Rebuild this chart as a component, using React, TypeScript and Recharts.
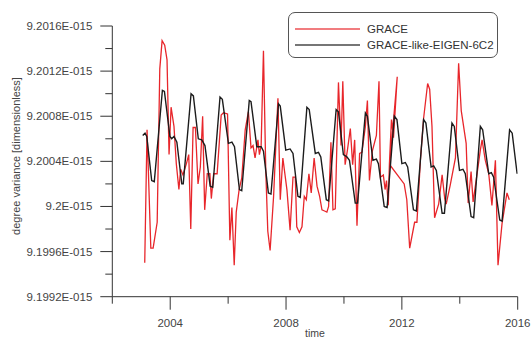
import React from "react";
import { LineChart, Line, XAxis, YAxis, Legend } from "recharts";

// [time (decimal year), degree variance (x 1E-015)]
const graceSeries: [number, number][] = [
  [2003.12, 9.1995], [2003.2, 9.20068], [2003.33, 9.19963], [2003.41, 9.19963],
  [2003.55, 9.19986], [2003.64, 9.20122], [2003.72, 9.20147], [2003.81, 9.20143],
  [2003.89, 9.2013], [2003.96, 9.20046], [2004.03, 9.20088], [2004.13, 9.20071],
  [2004.21, 9.20038], [2004.3, 9.20015], [2004.36, 9.20033], [2004.44, 9.20028],
  [2004.56, 9.20038], [2004.64, 9.20046], [2004.71, 9.1998], [2004.79, 9.2007],
  [2004.87, 9.2007], [2004.96, 9.2002], [2005.04, 9.20035], [2005.12, 9.2008],
  [2005.19, 9.19997], [2005.28, 9.20029], [2005.37, 9.20029], [2005.42, 9.20007],
  [2005.5, 9.20029], [2005.62, 9.20029], [2005.76, 9.20081], [2005.84, 9.20083],
  [2005.98, 9.20082], [2006.06, 9.1997], [2006.13, 9.19999], [2006.21, 9.19948],
  [2006.28, 9.19995], [2006.38, 9.20015], [2006.47, 9.20025], [2006.59, 9.20068],
  [2006.7, 9.20084], [2006.79, 9.20052], [2006.86, 9.20054], [2006.93, 9.20043],
  [2007.03, 9.20059], [2007.08, 9.20046], [2007.14, 9.20054], [2007.22, 9.20138],
  [2007.3, 9.20032], [2007.37, 9.19978], [2007.45, 9.19961], [2007.57, 9.20009],
  [2007.72, 9.20096], [2007.8, 9.20006], [2007.89, 9.20043], [2008.03, 9.20015],
  [2008.14, 9.19979], [2008.24, 9.20026], [2008.32, 9.20026], [2008.37, 9.19982],
  [2008.46, 9.19977], [2008.55, 9.19982], [2008.63, 9.20009], [2008.7, 9.20006],
  [2008.79, 9.20029], [2008.87, 9.20012], [2008.97, 9.20043], [2009.07, 9.20018],
  [2009.16, 9.20009], [2009.24, 9.19997], [2009.33, 9.19996], [2009.41, 9.19995],
  [2009.47, 9.2], [2009.55, 9.20057], [2009.62, 9.19997], [2009.7, 9.19998],
  [2009.81, 9.2011], [2009.9, 9.20054], [2009.96, 9.20111], [2010.04, 9.20037],
  [2010.12, 9.2005], [2010.22, 9.20069], [2010.3, 9.20037], [2010.37, 9.20059],
  [2010.45, 9.19983], [2010.54, 9.20047], [2010.62, 9.20048], [2010.74, 9.20071],
  [2010.81, 9.20094], [2010.88, 9.20023], [2010.98, 9.20049], [2011.12, 9.20063],
  [2011.21, 9.20111], [2011.26, 9.20026], [2011.36, 9.20028], [2011.42, 9.20015],
  [2011.47, 9.20023], [2011.53, 9.20001], [2011.57, 9.20038], [2011.64, 9.20077],
  [2011.71, 9.20061], [2011.84, 9.20115], [2011.58, 9.20037], [2012.08, 9.2002],
  [2012.17, 9.20006], [2012.27, 9.19963], [2012.44, 9.19986], [2012.52, 9.19986],
  [2012.64, 9.20041], [2012.75, 9.20078], [2012.89, 9.20109], [2012.96, 9.20104],
  [2013.04, 9.20071], [2013.13, 9.1999], [2013.27, 9.20002], [2013.39, 9.20028],
  [2013.48, 9.20007], [2013.53, 9.20002], [2013.67, 9.20019], [2013.85, 9.20043],
  [2013.96, 9.20127], [2014.05, 9.20085], [2014.22, 9.20056], [2014.29, 9.20003],
  [2014.39, 9.20031], [2014.46, 9.20004], [2014.63, 9.20035], [2014.71, 9.2005],
  [2014.77, 9.20059], [2014.88, 9.20041], [2015.0, 9.20029], [2015.11, 9.20001],
  [2015.23, 9.20041], [2015.32, 9.19948], [2015.46, 9.19985], [2015.63, 9.20012],
  [2015.71, 9.20006],
];

const eigenSeries: [number, number][] = [
  [2003.05, 9.20063], [2003.13, 9.20065], [2003.19, 9.20062], [2003.36, 9.20023],
  [2003.45, 9.20022], [2003.73, 9.20103], [2003.8, 9.20102], [2003.99, 9.20062],
  [2004.05, 9.2006], [2004.13, 9.20062], [2004.23, 9.20057], [2004.4, 9.2002],
  [2004.45, 9.2002], [2004.72, 9.201], [2004.8, 9.20098], [2004.97, 9.2006],
  [2005.09, 9.20059], [2005.2, 9.20054], [2005.38, 9.20018], [2005.47, 9.20017],
  [2005.72, 9.20097], [2005.8, 9.20095], [2006.01, 9.20056], [2006.13, 9.20057],
  [2006.22, 9.20053], [2006.39, 9.20015], [2006.47, 9.20014], [2006.73, 9.20094],
  [2006.79, 9.20093], [2006.99, 9.20053], [2007.14, 9.20053], [2007.22, 9.20049],
  [2007.39, 9.20012], [2007.48, 9.20011], [2007.74, 9.20091], [2007.8, 9.20089],
  [2007.99, 9.2005], [2008.14, 9.20051], [2008.24, 9.20047], [2008.41, 9.20009],
  [2008.49, 9.20008], [2008.72, 9.20088], [2008.8, 9.20086], [2009.01, 9.20047],
  [2009.12, 9.20048], [2009.2, 9.20044], [2009.39, 9.20006], [2009.47, 9.20005],
  [2009.73, 9.20086], [2009.81, 9.20084], [2009.98, 9.20046], [2010.1, 9.20044],
  [2010.19, 9.20041], [2010.39, 9.20003], [2010.47, 9.20003], [2010.74, 9.20083],
  [2010.81, 9.2008], [2011.0, 9.20041], [2011.12, 9.20042], [2011.19, 9.20038],
  [2011.39, 9.2], [2011.49, 9.19999], [2011.74, 9.2008], [2011.83, 9.20077],
  [2012.0, 9.20038], [2012.12, 9.20039], [2012.2, 9.20035], [2012.4, 9.19997],
  [2012.5, 9.19996], [2012.75, 9.20077], [2012.83, 9.20074], [2013.01, 9.20035],
  [2013.1, 9.20036], [2013.19, 9.20032], [2013.39, 9.19994], [2013.47, 9.19994],
  [2013.73, 9.20074], [2013.81, 9.20071], [2013.99, 9.20032], [2014.11, 9.20033],
  [2014.19, 9.20029], [2014.39, 9.19991], [2014.48, 9.1999], [2014.71, 9.20071],
  [2014.79, 9.20068], [2015.0, 9.20029], [2015.09, 9.2003], [2015.17, 9.20026],
  [2015.38, 9.19988], [2015.46, 9.19987], [2015.72, 9.20068], [2015.81, 9.20065],
  [2015.98, 9.20029],
];

const xTicks = [2002, 2004, 2006, 2008, 2010, 2012, 2014, 2016];
const yTicks = [
  9.1992, 9.1994, 9.1996, 9.1998, 9.2, 9.2002, 9.2004, 9.2006, 9.2008, 9.201,
  9.2012, 9.2014, 9.2016,
];

const seriesNames = ["GRACE", "GRACE-like-EIGEN-6C2"];
const seriesColors = ["#e8262b", "#1c1c1c"];

const toRows = (s: [number, number][]) => s.map(([t, v]) => ({ t, v }));
const fmtY = (v: number) => `${parseFloat(v.toFixed(4))}E-015`;

const FONT = "'Liberation Sans', Arial, sans-serif";
const AXIS = "#333";
const TEXT = "#444";

const XTick = (props: any) => {
  const { x, y, payload } = props;
  const major = payload.value % 4 === 0;
  return (
    <g>
      <line x1={x} x2={x} y1={y} y2={y + (major ? 13 : 7)} stroke={AXIS} />
      {major && (
        <text x={x} y={y + 30} textAnchor="middle" fontSize={11.5} fill={TEXT} fontFamily={FONT}>
          {payload.value}
        </text>
      )}
    </g>
  );
};

const YTick = (props: any) => {
  const { x, y, payload } = props;
  const major = Math.round(payload.value * 10000) % 4 === 0;
  return (
    <g>
      <line x1={x - (major ? 12 : 7)} x2={x} y1={y} y2={y} stroke={AXIS} />
      {major && (
        <text x={x - 20} y={y + 4} textAnchor="end" fontSize={11.5} fill={TEXT} fontFamily={FONT}>
          {fmtY(payload.value)}
        </text>
      )}
    </g>
  );
};

const LegendBox = () => (
  <div
    style={{
      width: 208,
      height: 44,
      border: "1px solid #555",
      borderRadius: 7,
      background: "#fff",
      fontFamily: FONT,
      fontSize: 11.5,
      color: "#333",
      position: "relative",
    }}
  >
    {seriesNames.map((name, i) => (
      <div
        key={name}
        style={{ position: "absolute", left: 6, top: 9 + i * 16, display: "flex", alignItems: "center" }}
      >
        <svg width={65} height={8}>
          <line x1={0} x2={65} y1={4} y2={4} stroke={seriesColors[i]} strokeWidth={1.5} opacity={0.8} />
        </svg>
        <span style={{ marginLeft: 7, lineHeight: "14px" }}>{name}</span>
      </div>
    ))}
  </div>
);

export default function App() {
  return (
    <div
      style={{
        position: "absolute",
        left: 0,
        top: 0,
        width: 531,
        height: 338,
        background: "#fff",
        overflow: "hidden",
      }}
    >
      <LineChart width={531} height={338} margin={{ top: 26, right: 13.3, bottom: 0, left: 0 }}>
        <XAxis
          type="number"
          dataKey="t"
          domain={[2002, 2016]}
          ticks={xTicks}
          interval={0}
          height={41.3}
          tickSize={0}
          tickMargin={0}
          tickLine={false}
          tick={<XTick />}
          axisLine={{ stroke: AXIS }}
          allowDataOverflow
          label={{
            content: () => (
              <text x={315} y={336.5} textAnchor="middle" fontSize={10.5} fill={TEXT} fontFamily={FONT}>
                time
              </text>
            ),
          }}
        />
        <YAxis
          type="number"
          domain={[9.1992, 9.2016]}
          ticks={yTicks}
          interval={0}
          width={112.3}
          tickSize={0}
          tickMargin={0}
          tickLine={false}
          tick={<YTick />}
          axisLine={{ stroke: AXIS }}
          allowDataOverflow
          label={{
            content: () => (
              <text
                x={16}
                y={156}
                transform="rotate(-90 16 156)"
                textAnchor="middle"
                dominantBaseline="central"
                fontSize={11}
                fill={TEXT}
                fontFamily={FONT}
              >
                degree variance [dimensionless]
              </text>
            ),
          }}
        />
        <Legend
          layout="vertical"
          align="center"
          verticalAlign="middle"
          content={<LegendBox />}
          wrapperStyle={{ left: 288, top: 12, width: 210, height: 46 }}
        />
        <Line
          data={toRows(graceSeries)}
          dataKey="v"
          name={seriesNames[0]}
          stroke={seriesColors[0]}
          strokeWidth={1.3}
          dot={false}
          isAnimationActive={false}
        />
        <Line
          data={toRows(eigenSeries)}
          dataKey="v"
          name={seriesNames[1]}
          stroke={seriesColors[1]}
          strokeWidth={1.4}
          dot={false}
          isAnimationActive={false}
        />
      </LineChart>
    </div>
  );
}
